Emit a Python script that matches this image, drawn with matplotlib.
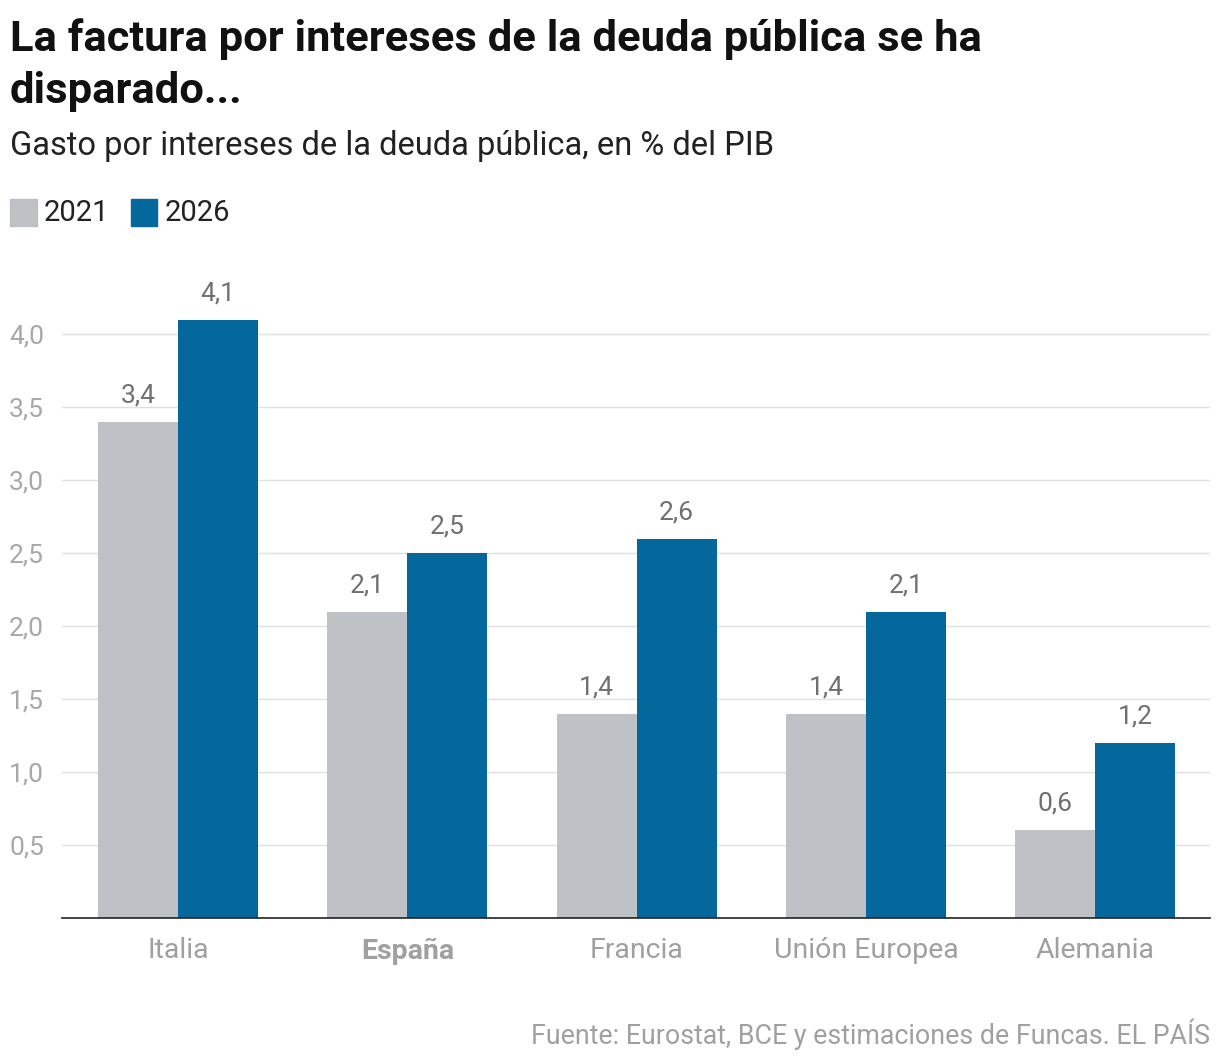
import matplotlib.pyplot as plt
import numpy as np

plt.rcParams['font.family'] = ['Roboto', 'DejaVu Sans']

countries = ['Italia', 'España', 'Francia', 'Unión Europea', 'Alemania']
v2021 = [3.4, 2.1, 1.4, 1.4, 0.6]
v2026 = [4.1, 2.5, 2.6, 2.1, 1.2]
yticks = [0.5, 1.0, 1.5, 2.0, 2.5, 3.0, 3.5, 4.0]

gray = '#bec2c6'
blue = '#05689c'
labc = '#707070'

fig = plt.figure(figsize=(12.2, 10.64), dpi=100)
ax = fig.add_axes([0.0508, 0.1372, 0.941, 0.6034])
x = np.arange(len(countries))
w = 0.349
ax.bar(x - w/2, v2021, w, color=gray, zorder=2)
ax.bar(x + w/2, v2026, w, color=blue, zorder=2)
for xi, a, b in zip(x, v2021, v2026):
    ax.text(xi - w/2, a + 0.1, f'{a:.1f}'.replace('.', ','), ha='center', va='bottom', fontsize=19, color=labc)
    ax.text(xi + w/2, b + 0.1, f'{b:.1f}'.replace('.', ','), ha='center', va='bottom', fontsize=19, color=labc)

ax.set_xlim(-0.506, 4.5)
ax.set_ylim(0, 4.4)
ax.set_yticks(yticks)
ax.set_yticklabels([f'{t:.1f}'.replace('.', ',') for t in yticks], fontsize=19, color='#a8a8a8', ha='left')
ax.yaxis.grid(True, color='#e0e0e0', lw=1, zorder=0)
ax.set_xticks(x)
ax.set_xticklabels(countries, fontsize=20.5, color='#a0a0a0')
ax.get_xticklabels()[1].set_fontweight('bold')
ax.tick_params(length=0)
ax.tick_params(axis='x', pad=14)
ax.tick_params(axis='y', pad=38)
for s in ['top', 'right', 'left']:
    ax.spines[s].set_visible(False)
ax.spines['bottom'].set_color('#222222')
ax.spines['bottom'].set_linewidth(1.2)

fig.text(0.008, 0.983, 'La factura por intereses de la deuda pública se ha\ndisparado...',
         fontsize=31.3, fontweight='bold', va='top', color='#111111', linespacing=1.35)
fig.text(0.008, 0.863, 'Gasto por intereses de la deuda pública, en % del PIB',
         fontsize=23.5, va='center', color='#222222')
fig.patches.append(plt.Rectangle((0.008, 0.788), 0.022, 0.025, color=gray, transform=fig.transFigure))
fig.text(0.036, 0.800, '2021', fontsize=21, va='center', color='#222222')
fig.patches.append(plt.Rectangle((0.107, 0.788), 0.022, 0.025, color=blue, transform=fig.transFigure))
fig.text(0.135, 0.800, '2026', fontsize=21, va='center', color='#222222')
fig.text(0.992, 0.028, 'Fuente: Eurostat, BCE y estimaciones de Funcas. EL PAÍS',
         fontsize=19.3, ha='right', va='center', color='#a0a0a0')

fig.savefig('out.png', dpi=100)
